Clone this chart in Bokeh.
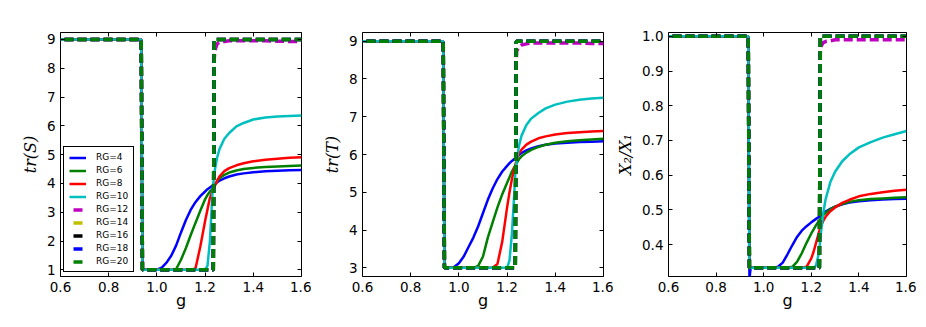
from bokeh.plotting import figure
from bokeh.layouts import row
from bokeh.models import (ColumnDataSource, Legend, LegendItem, LinearAxis,
                          FixedTicker, CustomJSTickFormatter, Range1d)
from bokeh.embed import file_html
from bokeh.resources import INLINE

# ---------------- data ----------------
G = [0.60, 0.935, 0.94, 0.945, 0.96, 0.98, 1.00, 1.02, 1.04, 1.06, 1.08, 1.10,
     1.12, 1.14, 1.16, 1.18, 1.20, 1.21, 1.22, 1.23, 1.234, 1.238, 1.24, 1.25,
     1.26, 1.28, 1.30, 1.33, 1.36, 1.40, 1.45, 1.50, 1.55, 1.60]

RG = [4, 6, 8, 10, 12, 14, 16, 18, 20]
COLORS = ["#0000ff", "#008000", "#ff0000", "#00bfbf", "#bf00bf",
          "#bfbf00", "#000000", "#0000ff", "#008000"]
DASHED = [False, False, False, False, True, True, True, True, True]

# panel 1: tr(S)
S_RG4 = [9, 9, 1, 1, 1, 1.0, 1.01, 1.08, 1.25, 1.5, 1.85, 2.3, 2.72, 3.08, 3.35,
         3.56, 3.72, 3.8, 3.86, 3.92, 3.94, 3.96, 3.97, 4.04, 4.1, 4.18, 4.24,
         4.31, 4.35, 4.39, 4.42, 4.44, 4.46, 4.47]
S_RG6 = [9, 9, 1, 1, 1, 1, 1, 1, 1, 1.0, 1.03, 1.35, 1.75, 2.2, 2.63, 3.05, 3.45,
         3.6, 3.72, 3.8, 3.85, 3.9, 3.95, 4.08, 4.18, 4.3, 4.38, 4.45, 4.5, 4.54,
         4.57, 4.59, 4.61, 4.62]
S_RG8 = [9, 9, 1, 1, 1, 1, 1, 1, 1, 1, 1, 1, 1, 1.0, 1.05, 1.8, 2.7, 3.1, 3.5,
         3.72, 3.8, 3.85, 3.9, 4.1, 4.25, 4.43, 4.53, 4.63, 4.7, 4.77, 4.82, 4.86,
         4.89, 4.91]
S_RG10 = [9, 9, 1, 1, 1, 1, 1, 1, 1, 1, 1, 1, 1, 1, 1, 1, 1.0, 1.15, 2.0, 3.6,
          4.0, 4.3, 4.45, 4.9, 5.2, 5.55, 5.75, 5.98, 6.1, 6.22, 6.29, 6.32, 6.34,
          6.36]
S_RG12 = [9, 9, 1, 1, 1, 1, 1, 1, 1, 1, 1, 1, 1, 1, 1, 1, 1, 1, 1, 1, 1, 8.3, 8.6,
          8.85, 8.9, 8.93, 8.95, 8.95, 8.95, 8.95, 8.95, 8.94, 8.93, 8.92]
S_RG14_20 = [9, 9, 1, 1, 1, 1, 1, 1, 1, 1, 1, 1, 1, 1, 1, 1, 1, 1, 1, 1, 1, 9, 9,
             9, 9, 9, 9, 9, 9, 9, 9, 9, 9, 9]

# panel 2: tr(T)
T_RG4 = [9, 9, 3, 3, 3.0, 3.02, 3.12, 3.3, 3.55, 3.8, 4.1, 4.45, 4.8, 5.1, 5.35,
         5.55, 5.7, 5.77, 5.83, 5.88, 5.9, 5.92, 5.93, 5.99, 6.04, 6.11, 6.16,
         6.22, 6.26, 6.29, 6.31, 6.33, 6.34, 6.35]
T_RG6 = [9, 9, 3, 3, 3, 3, 3, 3, 3, 3, 3.05, 3.3, 3.8, 4.2, 4.6, 4.95, 5.25, 5.4,
         5.55, 5.67, 5.7, 5.75, 5.78, 5.88, 5.95, 6.05, 6.12, 6.2, 6.26, 6.31,
         6.35, 6.38, 6.4, 6.42]
T_RG8 = [9, 9, 3, 3, 3, 3, 3, 3, 3, 3, 3, 3, 3, 3.0, 3.1, 3.7, 4.6, 5.0, 5.35,
         5.62, 5.72, 5.82, 5.87, 6.03, 6.13, 6.26, 6.34, 6.43, 6.48, 6.53, 6.57,
         6.59, 6.61, 6.62]
T_RG10 = [9, 9, 3, 3, 3, 3, 3, 3, 3, 3, 3, 3, 3, 3, 3, 3, 3.0, 3.2, 3.9, 5.0, 5.5,
          5.75, 5.85, 6.25, 6.5, 6.78, 6.95, 7.1, 7.22, 7.32, 7.4, 7.45, 7.48, 7.5]
T_RG12 = [9, 9, 3, 3, 3, 3, 3, 3, 3, 3, 3, 3, 3, 3, 3, 3, 3, 3, 3, 3, 3, 8.5,
          8.75, 8.85, 8.9, 8.93, 8.95, 8.95, 8.95, 8.95, 8.95, 8.95, 8.94, 8.94]
T_RG14_20 = [9, 9, 3, 3, 3, 3, 3, 3, 3, 3, 3, 3, 3, 3, 3, 3, 3, 3, 3, 3, 3, 9, 9,
             9, 9, 9, 9, 9, 9, 9, 9, 9, 9, 9]

# panel 3: X2/X1
X_RG4 = [1, 1, 0.30, 0.333, 0.333, 0.333, 0.333, 0.333, 0.333, 0.336, 0.348,
         0.372, 0.398, 0.422, 0.44, 0.453, 0.464, 0.469, 0.474, 0.479, 0.481,
         0.483, 0.484, 0.49, 0.495, 0.503, 0.509, 0.516, 0.521, 0.525, 0.528,
         0.53, 0.531, 0.532]
X_RG6 = [1, 1, 0.333, 0.333, 0.333, 0.333, 0.333, 0.333, 0.333, 0.333, 0.333,
         0.333, 0.336, 0.35, 0.375, 0.405, 0.432, 0.444, 0.456, 0.466, 0.47,
         0.474, 0.476, 0.485, 0.491, 0.502, 0.509, 0.517, 0.523, 0.528, 0.531,
         0.533, 0.535, 0.536]
X_RG8 = [1, 1, 0.333, 0.333, 0.333, 0.333, 0.333, 0.333, 0.333, 0.333, 0.333,
         0.333, 0.333, 0.333, 0.333, 0.336, 0.36, 0.38, 0.405, 0.43, 0.44, 0.448,
         0.452, 0.468, 0.48, 0.496, 0.507, 0.52, 0.529, 0.539, 0.546, 0.551,
         0.555, 0.558]
X_RG10 = [1, 1, 0.333, 0.333, 0.333, 0.333, 0.333, 0.333, 0.333, 0.333, 0.333,
          0.333, 0.333, 0.333, 0.333, 0.333, 0.333, 0.333, 0.34, 0.37, 0.39, 0.415,
          0.43, 0.49, 0.53, 0.58, 0.61, 0.64, 0.66, 0.68, 0.695, 0.708, 0.718,
          0.727]
X_RG12 = [1, 1, 0.333, 0.333, 0.333, 0.333, 0.333, 0.333, 0.333, 0.333, 0.333,
          0.333, 0.333, 0.333, 0.333, 0.333, 0.333, 0.333, 0.333, 0.333, 0.333,
          0.95, 0.97, 0.982, 0.985, 0.987, 0.99, 0.99, 0.99, 0.99, 0.99, 0.99,
          0.99, 0.99]
X_RG14_20 = [1, 1, 0.333, 0.333, 0.333, 0.333, 0.333, 0.333, 0.333, 0.333, 0.333,
             0.333, 0.333, 0.333, 0.333, 0.333, 0.333, 0.333, 0.333, 0.333, 0.333,
             1, 1, 1, 1, 1, 1, 1, 1, 1, 1, 1, 1, 1]

X_TICKS = [0.6, 0.8, 1.0, 1.2, 1.4, 1.6]
X_TICK_LABELS = ["0.6", "0.8", "1.0", "1.2", "1.4", "1.6"]
S_TICKS = [1, 2, 3, 4, 5, 6, 7, 8, 9]
S_TICK_LABELS = ["1", "2", "3", "4", "5", "6", "7", "8", "9"]
T_TICKS = [3, 4, 5, 6, 7, 8, 9]
T_TICK_LABELS = ["3", "4", "5", "6", "7", "8", "9"]
R_TICKS = [0.4, 0.5, 0.6, 0.7, 0.8, 0.9, 1.0]
R_TICK_LABELS = ["0.4", "0.5", "0.6", "0.7", "0.8", "0.9", "1.0"]

PANEL_S = [S_RG4, S_RG6, S_RG8, S_RG10, S_RG12, S_RG14_20, S_RG14_20, S_RG14_20, S_RG14_20]
PANEL_T = [T_RG4, T_RG6, T_RG8, T_RG10, T_RG12, T_RG14_20, T_RG14_20, T_RG14_20, T_RG14_20]
PANEL_X = [X_RG4, X_RG6, X_RG8, X_RG10, X_RG12, X_RG14_20, X_RG14_20, X_RG14_20, X_RG14_20]

FONT = "DejaVu Sans"


def blank_axis(ticks):
    ax = LinearAxis(ticker=FixedTicker(ticks=ticks),
                    formatter=CustomJSTickFormatter(code="return ''"))
    ax.major_tick_in = 4
    ax.major_tick_out = 0
    ax.minor_tick_in = 0
    ax.minor_tick_out = 0
    ax.axis_line_color = None
    ax.major_label_standoff = 0
    ax.major_label_text_font_size = "1px"
    return ax


def make_panel(width, left, ylabel, yr, yticks, ylabels, series, legend=False):
    p = figure(width=width, height=316, x_range=Range1d(0.6, 1.6),
               y_range=Range1d(*yr), output_backend="svg", toolbar_location=None,
               min_border_left=left, min_border_right=10, min_border_top=32,
               min_border_bottom=40)
    p.grid.visible = False
    p.outline_line_color = "black"
    p.outline_line_alpha = 1
    p.outline_line_width = 1
    p.background_fill_color = "white"
    p.border_fill_color = "white"

    for ax, ticks, labs in ((p.xaxis[0], X_TICKS, X_TICK_LABELS),
                            (p.yaxis[0], yticks, ylabels)):
        ax.ticker = FixedTicker(ticks=ticks)
        ax.major_label_overrides = {t: l for t, l in zip(ticks, labs)}
        ax.major_tick_in = 4
        ax.major_tick_out = 0
        ax.minor_tick_in = 0
        ax.minor_tick_out = 0
        ax.axis_line_color = None
        ax.major_label_text_font = FONT
        ax.major_label_text_font_size = "13.5px"
        ax.major_label_text_color = "black"
        ax.major_label_standoff = 5
    p.xaxis.axis_label = "g"
    p.xaxis.axis_label_text_font = FONT
    p.xaxis.axis_label_text_font_style = "normal"
    p.xaxis.axis_label_text_font_size = "16px"
    p.xaxis.axis_label_text_color = "black"
    p.xaxis.axis_label_standoff = -4
    p.yaxis.axis_label = ylabel
    p.yaxis.axis_label_text_font = "DejaVu Serif"
    p.yaxis.axis_label_text_font_style = "italic"
    p.yaxis.axis_label_text_font_size = "16px"
    p.yaxis.axis_label_text_color = "black"
    p.yaxis.axis_label_standoff = 4

    p.add_layout(blank_axis(yticks), "right")
    p.add_layout(blank_axis(X_TICKS), "above")

    src = ColumnDataSource(data={"g": G, **{f"rg{r}": s for r, s in zip(RG, series)}})
    renderers = []
    for r, c, d in zip(RG, COLORS, DASHED):
        if d:
            rr = p.line("g", f"rg{r}", source=src, line_color=c, line_width=3.5,
                        line_dash="9 4", line_dash_offset=9)
        else:
            rr = p.line("g", f"rg{r}", source=src, line_color=c, line_width=2.5)
        renderers.append(rr)

    if legend:
        items = [LegendItem(label=f"RG={r}", renderers=[rr])
                 for r, rr in zip(RG, renderers)]
        lg = Legend(items=items, location=(3, 4), margin=0, padding=5,
                    spacing=3, glyph_width=17, glyph_height=9, label_height=9,
                    label_standoff=10, label_text_font=FONT,
                    label_text_font_size="9px", label_text_color="black",
                    border_line_color="black", border_line_width=1,
                    border_line_alpha=1, background_fill_color="white",
                    background_fill_alpha=1)
        p.add_layout(lg)
    return p


p1 = make_panel(311, 60, "tr(S)", (0.77, 9.24), S_TICKS, S_TICK_LABELS, PANEL_S, legend=True)
p2 = make_panel(302, 51, "tr(T)", (2.77, 9.23), T_TICKS, T_TICK_LABELS, PANEL_T)
p3 = make_panel(303, 52, "X\u2082/X\u2081", (0.308, 1.011), R_TICKS, R_TICK_LABELS, PANEL_X)

layout = row(p1, p2, p3)
open("out.html", "w").write(file_html(layout, INLINE))
